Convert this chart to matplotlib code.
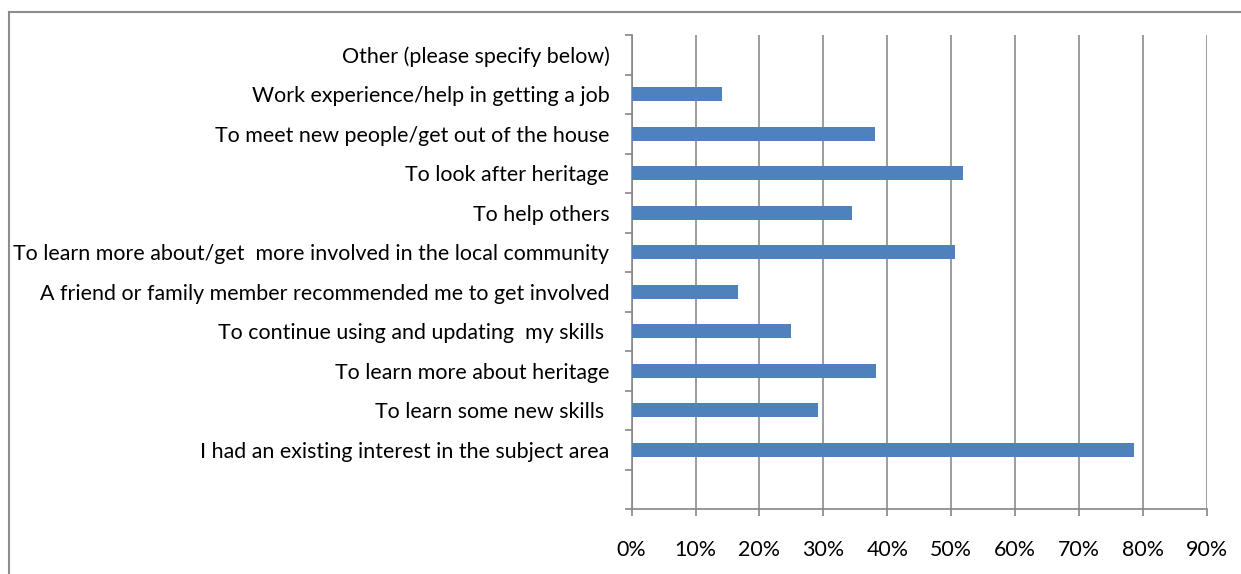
import matplotlib.pyplot as plt
from matplotlib.lines import Line2D
from matplotlib.ticker import FixedLocator, PercentFormatter

plt.rcParams['font.family'] = ['Lato', 'DejaVu Sans']

# reasons for volunteering, listed bottom to top (blank slot at the bottom)
reasons = [
    '',
    'I had an existing interest in the subject area',
    'To learn some new skills ',
    'To learn more about heritage',
    'To continue using and updating  my skills ',
    'A friend or family member recommended me to get involved',
    'To learn more about/get  more involved in the local community',
    'To help others',
    'To look after heritage',
    'To meet new people/get out of the house',
    'Work experience/help in getting a job',
    'Other (please specify below)',
]
share = [0, 78.6, 29.2, 38.3, 25.0, 16.6, 50.6, 34.5, 51.9, 38.1, 14.2, 0]
xticks = [0, 10, 20, 30, 40, 50, 60, 70, 80, 90]

fig = plt.figure(figsize=(12.41, 5.74), dpi=100)
ax = fig.add_axes([0.509, 0.1132, 0.4634, 0.8258])

ypos = list(range(len(reasons)))
ax.barh(ypos, share, height=0.36, color='#4F81BD', zorder=3)

ax.set_xlim(0, 90)
ax.set_ylim(-0.5, len(reasons) - 0.5)
ax.set_xticks(xticks)
ax.xaxis.set_major_formatter(PercentFormatter(decimals=0))
ax.grid(axis='x', color='#8c8c8c', linewidth=1.2, zorder=0)

ax.set_yticks(ypos)
ax.set_yticklabels(reasons)
ax.yaxis.set_minor_locator(FixedLocator([y - 0.5 for y in ypos] + [len(reasons) - 0.5]))
ax.tick_params(axis='y', which='major', length=0, pad=16, labelsize=15.4)
ax.tick_params(axis='y', which='minor', length=5, width=1.2, color='#868686')
ax.tick_params(axis='x', length=5, width=1.2, color='#868686', pad=17, labelsize=15.4)

for side in ['top', 'right']:
    ax.spines[side].set_visible(False)
for side in ['left', 'bottom']:
    ax.spines[side].set_color('#868686')
    ax.spines[side].set_linewidth(1.2)

# outer chart frame
W, H = 1241, 574
fig.add_artist(Line2D([8.5 / W, 8.5 / W], [0, 1 - 12 / H], color='#8c8c8c', linewidth=1.5))
fig.add_artist(Line2D([8.5 / W, 1], [1 - 12 / H, 1 - 12 / H], color='#8c8c8c', linewidth=1.5))

fig.savefig('out.png', dpi=100)
